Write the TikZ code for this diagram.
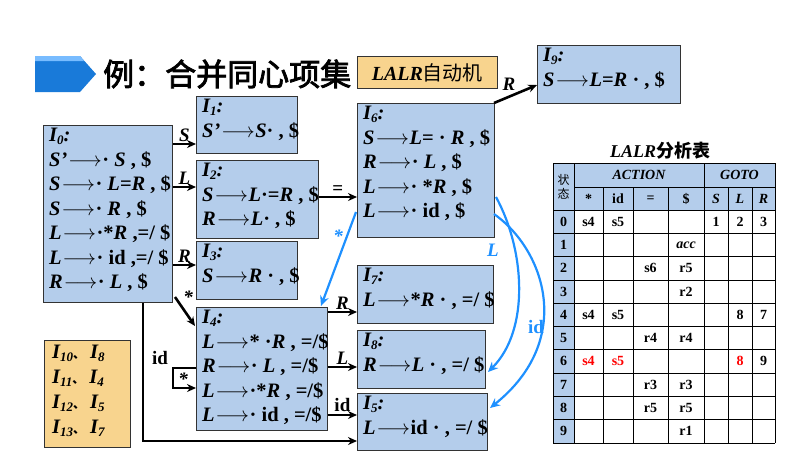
\documentclass[tikz,border=0pt]{standalone}
\usepackage{fontspec}
\setmainfont{Liberation Serif}
\newfontfamily\cjk[AutoFakeBold=2.5]{Noto Sans CJK SC}
\newfontfamily\cjkserif{Noto Sans CJK SC}
\usetikzlibrary{arrows.meta}
\definecolor{boxblue}{RGB}{180,205,235}
\definecolor{boxorange}{RGB}{248,212,142}
\definecolor{arrblue}{RGB}{30,144,255}
\newcommand\ru[1]{{\upshape #1}}
\newcommand\Isub[1]{I\raisebox{-0.35ex}{\fontsize{13}{13}\selectfont #1}:}
\newcommand\ra{\kern1pt\ensuremath{\longrightarrow}\kern0.5pt}
\tikzset{
  st/.style={draw=black!80, fill=boxblue, line width=0.8pt, anchor=north west, inner sep=0},
  tx/.style={anchor=north west, inner sep=0, align=left, font=\fontsize{20.5}{24.5}\selectfont\bfseries\itshape},
  ed/.style={-{Stealth[length=9pt,width=8pt]}, line width=2.6pt},
  be/.style={-{Stealth[length=10pt,width=9pt]}, line width=2.2pt, arrblue},
  lb/.style={font=\fontsize{19}{19}\selectfont\bfseries\itshape, inner sep=1pt},
  tc/.style={font=\fontsize{14}{14}\selectfont\bfseries}
}
\begin{document}
\begin{tikzpicture}[x=1pt,y=-1pt]
\useasboundingbox (0,0) rectangle (792,467);
% title
\fill[arrblue!85!black] (35,56) -- (80,56) -- (96,74) -- (80,92) -- (35,92) -- cycle;
\fill[arrblue!60] (35,56) -- (80,56) -- (84,61) -- (35,61) -- cycle;
\node[anchor=west, inner sep=0, font=\cjk\bfseries\fontsize{31}{31}\selectfont] (title) at (103,74) {例：合并同心项集};
\node[draw=black!80, fill=boxorange, line width=0.8pt, anchor=north west, minimum width=140, minimum height=32, inner sep=0] (lalr) at (357,56) {};
\node[anchor=center, inner sep=0, font=\fontsize{20}{20}\selectfont] at (lalr.center) {\textbf{\textit{LALR}}{\cjkserif 自动机}};
% boxes
\node[st, minimum width=129, minimum height=177] (I0) at (43,125) {};
\node[tx] at ([shift={(6,3)}]I0.north west) {\Isub{0}\\S'\ra\ru{·} S \ru{, \$}\\S\ra\ru{·} L\ru{=}R \ru{, \$}\\S\ra\ru{·} R \ru{, \$}\\L\ra\ru{·*}R \ru{,=/ \$}\\L\ra\ru{· id ,=/ \$}\\R\ra\ru{·} L \ru{, \$}};
\node[st, minimum width=101, minimum height=57] (I1) at (196,96) {};
\node[tx] at ([shift={(6,3)}]I1.north west) {\Isub{1}\\S'\ra S\ru{· , \$}};
\node[st, minimum width=122, minimum height=78] (I2) at (196,160) {};
\node[tx] at ([shift={(6,3)}]I2.north west) {\Isub{2}\\S\ra L\ru{·=}R \ru{, \$}\\R\ra L\ru{· , \$}};
\node[st, minimum width=101, minimum height=58] (I3) at (196,241) {};
\node[tx] at ([shift={(6,3)}]I3.north west) {\Isub{3}\\S\ra R \ru{· , \$}};
\node[st, minimum width=131, minimum height=123] (I4) at (196,307) {};
\node[tx] at ([shift={(6,3)}]I4.north west) {\Isub{4}\\L\ra\ru{* ·}R \ru{, =/\$}\\R\ra\ru{·} L \ru{, =/\$}\\L\ra\ru{·*}R \ru{, =/\$}\\L\ra\ru{· id , =/\$}};
\node[st, minimum width=137, minimum height=134] (I6) at (357,103) {};
\node[tx] at ([shift={(6,3)}]I6.north west) {\Isub{6}\\S\ra L\ru{= ·} R \ru{, \$}\\R\ra\ru{·} L \ru{, \$}\\L\ra\ru{· *}R \ru{, \$}\\L\ra\ru{· id , \$}};
\node[st, minimum width=143, minimum height=58] (I9) at (537,45) {};
\node[tx] at ([shift={(6,3)}]I9.north west) {\Isub{9}\\S\ra L\ru{=}R \ru{· , \$}};
\node[st, minimum width=136, minimum height=58] (I7) at (357,265) {};
\node[tx] at ([shift={(6,3)}]I7.north west) {\Isub{7}\\L\ra\ru{*}R \ru{· , =/ \$}};
\node[st, minimum width=128, minimum height=58] (I8) at (357,330) {};
\node[tx] at ([shift={(6,3)}]I8.north west) {\Isub{8}\\R\ra L \ru{· , =/ \$}};
\node[st, minimum width=130, minimum height=57] (I5) at (357,393) {};
\node[tx] at ([shift={(6,3)}]I5.north west) {\Isub{5}\\L\ra\ru{id · , =/ \$}};
\node[draw=black!80, fill=boxorange, line width=0.8pt, anchor=north west, minimum width=86, minimum height=107, inner sep=0] (mg) at (44,340) {};
\node[anchor=north west, inner sep=0, font=\fontsize{20.5}{25}\selectfont\bfseries\itshape, align=left] at ([shift={(8,5)}]mg.north west)
 {I\raisebox{-0.35ex}{\fontsize{13}{13}\selectfont 10}{\cjkserif\fontsize{12}{12}\selectfont 、}\hspace{5pt}I\raisebox{-0.35ex}{\fontsize{13}{13}\selectfont 8}\\
  I\raisebox{-0.35ex}{\fontsize{13}{13}\selectfont 11}{\cjkserif\fontsize{12}{12}\selectfont 、}\hspace{5pt}I\raisebox{-0.35ex}{\fontsize{13}{13}\selectfont 4}\\
  I\raisebox{-0.35ex}{\fontsize{13}{13}\selectfont 12}{\cjkserif\fontsize{12}{12}\selectfont 、}\hspace{5pt}I\raisebox{-0.35ex}{\fontsize{13}{13}\selectfont 5}\\
  I\raisebox{-0.35ex}{\fontsize{13}{13}\selectfont 13}{\cjkserif\fontsize{12}{12}\selectfont 、}\hspace{5pt}I\raisebox{-0.35ex}{\fontsize{13}{13}\selectfont 7}};
% black edges
\draw[ed] (I0.east |- 0,144) -- node[lb, above]{S} (I1.west |- 0,144);
\draw[ed] (I0.east |- 0,187) -- node[lb, above]{L} (I2.west |- 0,187);
\draw[ed] (I0.east |- 0,265) -- node[lb, above]{R} (I3.west |- 0,265);
\draw[ed] (175,297) -- node[lb, above right, pos=0.3]{*} (195,326);
\draw[ed] (I0.south -| 143,0) -- (143,441) -- (I5.west |- 0,441);
\draw[ed] (I2.east |- 0,197) -- node[lb, above, font=\fontsize{19}{19}\selectfont\bfseries]{=} (I6.west |- 0,197);
\draw[ed] (494,103) -- node[lb, above left, pos=0.55]{R} (537,85);
\draw[ed] (I4.east |- 0,312) -- node[lb, above]{R} (I7.west |- 0,312);
\draw[ed] (I4.east |- 0,367) -- node[lb, above]{L} (I8.west |- 0,367);
\draw[ed] (I4.east |- 0,415) -- node[lb, above=1pt, font=\fontsize{19}{19}\selectfont\bfseries]{id} (I5.west |- 0,415);
\draw[ed] (I4.west |- 0,368) -- (173,368) -- (173,388) -- (I4.west |- 0,388);
\node[lb, font=\fontsize{19}{19}\selectfont\bfseries] at (160,358) {id};
\node[lb] at (183,379) {*};
% blue edges
\draw[be] (356,212) -- (321,306);
\node[lb, text=arrblue] at (338,236) {*};
\draw[be] (496,197) .. controls (525,250) and (530,330) .. (488,372);
\node[lb, text=arrblue] at (493,250) {L};
\draw[be] (494,214) .. controls (545,250) and (575,340) .. (490,408);
\node[lb, text=arrblue, font=\fontsize{19}{19}\selectfont\bfseries] at (536,327) {id};
% table
\node[font=\fontsize{18}{18}\selectfont\bfseries\itshape, inner sep=0] (tt) at (660,151) {LALR{\cjkserif 分析表}};
\fill[boxblue] (553,163) rectangle (775,210);
\fill[boxblue] (553,210) rectangle (574,443);
\foreach \x in {553,574,603,633,668,704,728,752,775} \draw[line width=0.8pt] (\x,187) -- (\x,443);
\foreach \x in {553,574,704,775} \draw[line width=0.8pt] (\x,163) -- (\x,187);
\draw[line width=0.8pt] (553,163) -- (775,163);
\draw[line width=0.8pt] (574,187) -- (775,187);
\foreach \i in {0,...,10} \draw[line width=0.8pt] (553,{210+\i*23.3}) -- (775,{210+\i*23.3});
\node[font=\cjkserif\fontsize{12}{14}\selectfont, align=center, inner sep=0] at (563.5,187) {状\\态};
\node[font=\fontsize{14}{14}\selectfont\bfseries\itshape] at (639,175) {ACTION};
\node[font=\fontsize{14}{14}\selectfont\bfseries\itshape] at (739.5,175) {GOTO};
\foreach \x/\t in {588.5/*,618/id,650.5/=,686/\$} \node[tc] at (\x,199) {\t};
\foreach \x/\t in {716/S,740/L,763.5/R} \node[tc, font=\fontsize{14}{14}\selectfont\bfseries\itshape] at (\x,199) {\t};
\foreach \r in {0,...,9} \node[tc] at (563.5,{221.6+\r*23.3}) {\r};
\foreach \r/\x/\t in {0/588.5/s4,0/618/s5,0/716/1,0/740/2,0/763.5/3,
  2/650.5/s6,2/686/r5,3/686/r2,4/588.5/s4,4/618/s5,4/740/8,4/763.5/7,
  5/650.5/r4,5/686/r4,6/763.5/9,7/650.5/r3,7/686/r3,8/650.5/r5,8/686/r5,9/686/r1}
  \node[tc] at (\x,{221.6+\r*23.3}) {\t};
\node[tc, font=\fontsize{14}{14}\selectfont\bfseries\itshape] at (686,244.9) {acc};
\foreach \x/\t in {588.5/s4,618/s5,740/8} \node[tc, text=red] at (\x,{221.6+6*23.3}) {\t};
\end{tikzpicture}
\end{document}
